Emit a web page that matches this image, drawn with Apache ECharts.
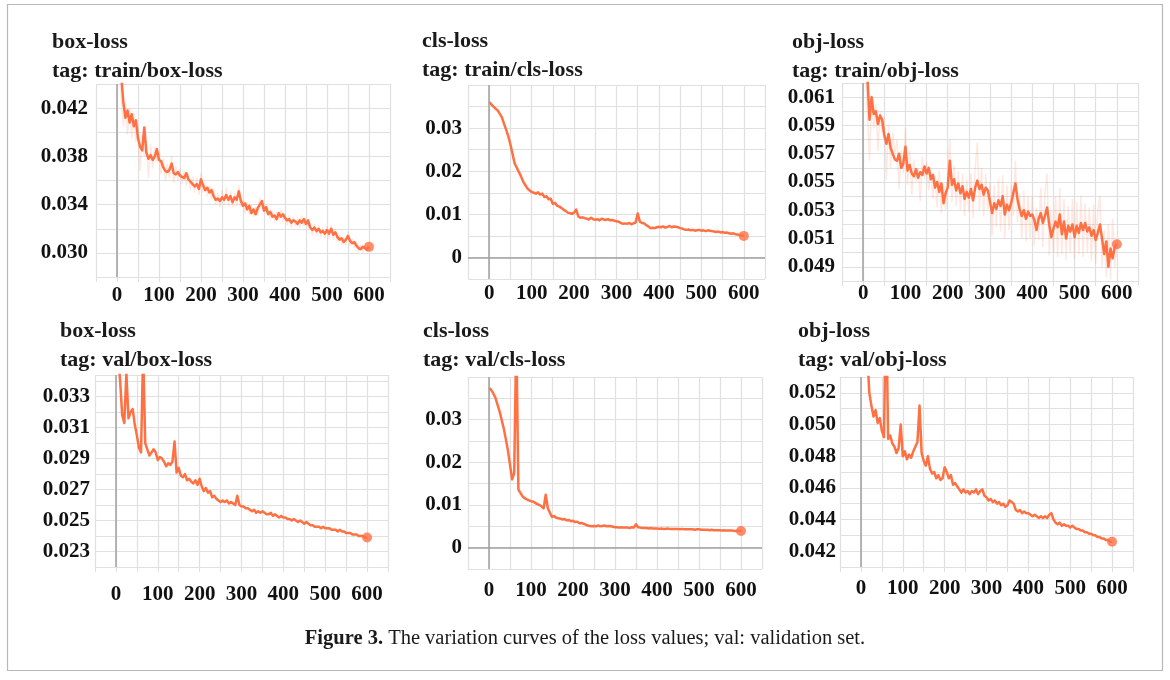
<!DOCTYPE html>
<html>
<head>
<meta charset="utf-8">
<title>loss curves</title>
<script src="https://cdn.jsdelivr.net/npm/echarts@6.0.0/dist/echarts.min.js"></script>
<style>
  html, body { margin: 0; padding: 0; background: #fff; }
  #main { width: 1170px; height: 680px; }
</style>
</head>
<body>
<div id="main"></div>
<script>
// training step (x) shared by every curve
const steps = [
  0, 5, 10, 15, 20, 25, 30, 35, 40, 45,
  50, 55, 60, 65, 70, 75, 80, 85, 90, 95,
  100, 105, 110, 115, 120, 125, 130, 135, 140, 145,
  150, 155, 160, 165, 170, 175, 180, 185, 190, 195,
  200, 205, 210, 215, 220, 225, 230, 235, 240, 245,
  250, 255, 260, 265, 270, 275, 280, 285, 290, 295,
  300, 305, 310, 315, 320, 325, 330, 335, 340, 345,
  350, 355, 360, 365, 370, 375, 380, 385, 390, 395,
  400, 405, 410, 415, 420, 425, 430, 435, 440, 445,
  450, 455, 460, 465, 470, 475, 480, 485, 490, 495,
  500, 505, 510, 515, 520, 525, 530, 535, 540, 545,
  550, 555, 560, 565, 570, 575, 580, 585, 590, 595,
  600
];

const trainBoxLoss = [
  0.0480, 0.0465, 0.0448, 0.0425, 0.0412, 0.0418, 0.0408, 0.0415, 0.0405, 0.0410,
  0.0395, 0.0388, 0.0385, 0.0404, 0.0383, 0.0378, 0.0381, 0.0377, 0.0380, 0.0386,
  0.0377, 0.0376, 0.0371, 0.0368, 0.0367, 0.0369, 0.0374, 0.0366, 0.0365, 0.0367,
  0.0364, 0.0363, 0.0362, 0.0366, 0.0361, 0.0359, 0.0357, 0.0355, 0.0357, 0.0353,
  0.0361, 0.0356, 0.0352, 0.0354, 0.0350, 0.0352, 0.0347, 0.0344, 0.0345, 0.0343,
  0.0346, 0.0344, 0.0348, 0.0344, 0.0347, 0.0342, 0.0346, 0.0344, 0.0351, 0.0343,
  0.0339, 0.0341, 0.0336, 0.0339, 0.0333, 0.0336, 0.0332, 0.0337, 0.0340, 0.0343,
  0.0335, 0.0338, 0.0332, 0.0334, 0.0330, 0.0331, 0.0328, 0.0333, 0.0330, 0.0332,
  0.0329, 0.0327, 0.0328, 0.0325, 0.0327, 0.0326, 0.0324, 0.0327, 0.0325, 0.0328,
  0.0324, 0.0327, 0.0321, 0.0319, 0.0321, 0.0318, 0.0320, 0.0317, 0.0318, 0.0316,
  0.0319, 0.0316, 0.0320, 0.0315, 0.0317, 0.0313, 0.0311, 0.0312, 0.0309, 0.0311,
  0.0314, 0.0310, 0.0308, 0.0309, 0.0306, 0.0304, 0.0303, 0.0305, 0.0304, 0.0303,
  0.0305
];

// unsmoothed values behind the box-loss training curve
const trainBoxRaw = [
  0.0470, 0.0450, 0.0430, 0.0405, 0.0425, 0.0398, 0.0420, 0.0395, 0.0416, 0.0392,
  0.0405, 0.0368, 0.0398, 0.0380, 0.0392, 0.0362, 0.0390, 0.0370, 0.0388, 0.0375,
  0.0384, 0.0366, 0.0378, 0.0360, 0.0374, 0.0362, 0.0380, 0.0358, 0.0372, 0.0360,
  0.0370, 0.0357, 0.0368, 0.0356, 0.0366, 0.0352, 0.0363, 0.0350, 0.0362, 0.0348,
  0.0366, 0.0350, 0.0358, 0.0347, 0.0356, 0.0345, 0.0353, 0.0340, 0.0350, 0.0338,
  0.0352, 0.0340, 0.0354, 0.0339, 0.0351, 0.0338, 0.0350, 0.0339, 0.0356, 0.0338,
  0.0344, 0.0333, 0.0342, 0.0332, 0.0340, 0.0330, 0.0338, 0.0331, 0.0346, 0.0336,
  0.0341, 0.0332, 0.0337, 0.0328, 0.0335, 0.0326, 0.0334, 0.0327, 0.0336, 0.0326,
  0.0333, 0.0323, 0.0331, 0.0321, 0.0330, 0.0322, 0.0329, 0.0321, 0.0331, 0.0322,
  0.0328, 0.0321, 0.0325, 0.0315, 0.0324, 0.0314, 0.0323, 0.0313, 0.0321, 0.0312,
  0.0322, 0.0312, 0.0323, 0.0311, 0.0320, 0.0309, 0.0315, 0.0307, 0.0313, 0.0306,
  0.0317, 0.0306, 0.0312, 0.0304, 0.0309, 0.0301, 0.0307, 0.0300, 0.0307, 0.0301,
  0.0305
];

const trainClsLoss = [
  0.0360, 0.0355, 0.0350, 0.0345, 0.0341, 0.0333, 0.0325, 0.0310, 0.0296, 0.0281,
  0.0262, 0.0240, 0.0218, 0.0208, 0.0198, 0.0188, 0.0176, 0.0168, 0.0160, 0.0156,
  0.0152, 0.0150, 0.0148, 0.0151, 0.0146, 0.0148, 0.0140, 0.0142, 0.0135, 0.0136,
  0.0124, 0.0127, 0.0120, 0.0118, 0.0115, 0.0111, 0.0108, 0.0104, 0.0103, 0.0101,
  0.0104, 0.0111, 0.0095, 0.0092, 0.0093, 0.0091, 0.0090, 0.0088, 0.0092, 0.0089,
  0.0087, 0.0089, 0.0086, 0.0090, 0.0088, 0.0087, 0.0089, 0.0086, 0.0087, 0.0085,
  0.0084, 0.0083, 0.0080, 0.0078, 0.0079, 0.0078, 0.0080, 0.0077, 0.0079, 0.0081,
  0.0102, 0.0083, 0.0080, 0.0079, 0.0075, 0.0072, 0.0068, 0.0069, 0.0068, 0.0070,
  0.0071, 0.0070, 0.0072, 0.0069, 0.0071, 0.0073, 0.0070, 0.0072, 0.0071, 0.0070,
  0.0068, 0.0067, 0.0065, 0.0064, 0.0065, 0.0063, 0.0064, 0.0062, 0.0063, 0.0064,
  0.0062, 0.0063, 0.0061, 0.0063, 0.0062, 0.0061, 0.0060, 0.0059, 0.0060, 0.0058,
  0.0059, 0.0057, 0.0058, 0.0056, 0.0055, 0.0056, 0.0054, 0.0053, 0.0052, 0.0051,
  0.0050
];

const trainObjLoss = [
  0.0650, 0.0635, 0.0625, 0.0594, 0.0610, 0.0598, 0.0600, 0.0591, 0.0597, 0.0594,
  0.0583, 0.0577, 0.0584, 0.0574, 0.0570, 0.0566, 0.0565, 0.0570, 0.0560, 0.0563,
  0.0575, 0.0558, 0.0562, 0.0556, 0.0554, 0.0559, 0.0553, 0.0557, 0.0555, 0.0561,
  0.0556, 0.0560, 0.0552, 0.0555, 0.0546, 0.0550, 0.0543, 0.0549, 0.0535, 0.0542,
  0.0546, 0.0565, 0.0548, 0.0552, 0.0544, 0.0549, 0.0542, 0.0547, 0.0538, 0.0543,
  0.0539, 0.0545, 0.0537, 0.0546, 0.0551, 0.0545, 0.0548, 0.0541, 0.0546, 0.0544,
  0.0536, 0.0528, 0.0535, 0.0531, 0.0537, 0.0533, 0.0540, 0.0527, 0.0534, 0.0530,
  0.0535, 0.0542, 0.0549, 0.0538, 0.0531, 0.0526, 0.0530, 0.0524, 0.0529, 0.0526,
  0.0527, 0.0523, 0.0516, 0.0524, 0.0528, 0.0521, 0.0526, 0.0532, 0.0520, 0.0511,
  0.0517, 0.0522, 0.0518, 0.0527, 0.0513, 0.0522, 0.0510, 0.0519, 0.0515, 0.0520,
  0.0511, 0.0519, 0.0514, 0.0521, 0.0516, 0.0521, 0.0515, 0.0518, 0.0512, 0.0516,
  0.0509, 0.0514, 0.0520, 0.0510, 0.0499, 0.0508, 0.0490, 0.0503, 0.0496, 0.0504,
  0.0506
];

// unsmoothed values behind the obj-loss training curve
const trainObjRaw = [
  0.0640, 0.0630, 0.0600, 0.0565, 0.0612, 0.0588, 0.0605, 0.0572, 0.0600, 0.0585,
  0.0596, 0.0552, 0.0590, 0.0560, 0.0585, 0.0570, 0.0580, 0.0545, 0.0572, 0.0556,
  0.0588, 0.0548, 0.0572, 0.0541, 0.0566, 0.0550, 0.0560, 0.0536, 0.0568, 0.0552,
  0.0564, 0.0544, 0.0560, 0.0538, 0.0555, 0.0532, 0.0558, 0.0528, 0.0549, 0.0530,
  0.0555, 0.0580, 0.0536, 0.0562, 0.0533, 0.0558, 0.0530, 0.0556, 0.0526, 0.0552,
  0.0529, 0.0556, 0.0524, 0.0560, 0.0578, 0.0530, 0.0560, 0.0526, 0.0556, 0.0531,
  0.0550, 0.0512, 0.0548, 0.0518, 0.0552, 0.0515, 0.0555, 0.0510, 0.0548, 0.0516,
  0.0548, 0.0526, 0.0565, 0.0522, 0.0542, 0.0510, 0.0544, 0.0508, 0.0540, 0.0510,
  0.0540, 0.0505, 0.0532, 0.0509, 0.0546, 0.0504, 0.0542, 0.0556, 0.0498, 0.0530,
  0.0500, 0.0540, 0.0497, 0.0546, 0.0499, 0.0538, 0.0495, 0.0533, 0.0500, 0.0538,
  0.0496, 0.0536, 0.0499, 0.0540, 0.0497, 0.0535, 0.0500, 0.0532, 0.0494, 0.0534,
  0.0492, 0.0530, 0.0540, 0.0490, 0.0516, 0.0483, 0.0520, 0.0481, 0.0524, 0.0490,
  0.0506
];

const valBoxLoss = [
  0.0370, 0.0358, 0.0340, 0.0318, 0.0313, 0.0345, 0.0316, 0.0320, 0.0322, 0.0312,
  0.0305, 0.0297, 0.0294, 0.0360, 0.0300, 0.0296, 0.0292, 0.0294, 0.0296, 0.0294,
  0.0289, 0.0291, 0.0290, 0.0288, 0.0285, 0.0287, 0.0286, 0.0288, 0.0301, 0.0281,
  0.0284, 0.0279, 0.0278, 0.0280, 0.0276, 0.0277, 0.0275, 0.0274, 0.0276, 0.0273,
  0.0277, 0.0272, 0.0269, 0.0271, 0.0268, 0.0269, 0.0265, 0.0266, 0.0264, 0.0263,
  0.0262, 0.0263, 0.0262, 0.0263, 0.0261, 0.0262, 0.0261, 0.0260, 0.0266, 0.0260,
  0.0259, 0.0259, 0.0258, 0.0258, 0.0257, 0.0256, 0.0257, 0.0255, 0.0256, 0.0255,
  0.0256, 0.0255, 0.0254, 0.0254, 0.0255, 0.0253, 0.0254, 0.0253, 0.0252, 0.0253,
  0.0252, 0.0252, 0.0251, 0.0251, 0.0250, 0.0251, 0.0250, 0.0249, 0.0250, 0.0249,
  0.0248, 0.0249, 0.0248, 0.0247, 0.0247, 0.0246, 0.0246, 0.0246, 0.0245, 0.0246,
  0.0245, 0.0245, 0.0245, 0.0244, 0.0244, 0.0244, 0.0243, 0.0244, 0.0243, 0.0243,
  0.0242, 0.0242, 0.0242, 0.0241, 0.0241, 0.0241, 0.0240, 0.0240, 0.0240, 0.0239,
  0.0239
];

const valClsLoss = [
  0.0374, 0.0370, 0.0362, 0.0352, 0.0336, 0.0320, 0.0300, 0.0280, 0.0255, 0.0228,
  0.0195, 0.0160, 0.0175, 0.0500, 0.0136, 0.0128, 0.0120, 0.0116, 0.0113, 0.0111,
  0.0109, 0.0108, 0.0105, 0.0102, 0.0100, 0.0097, 0.0092, 0.0124, 0.0093, 0.0082,
  0.0072, 0.0074, 0.0070, 0.0069, 0.0068, 0.0066, 0.0067, 0.0064, 0.0065, 0.0062,
  0.0063, 0.0060, 0.0061, 0.0057, 0.0058, 0.0056, 0.0054, 0.0052, 0.0051, 0.0050,
  0.0051, 0.0050, 0.0052, 0.0050, 0.0051, 0.0052, 0.0050, 0.0051, 0.0050, 0.0049,
  0.0048, 0.0048, 0.0047, 0.0048, 0.0047, 0.0047, 0.0047, 0.0046, 0.0048, 0.0047,
  0.0055, 0.0048, 0.0047, 0.0046, 0.0046, 0.0046, 0.0045, 0.0046, 0.0045, 0.0045,
  0.0045, 0.0044, 0.0045, 0.0044, 0.0044, 0.0045, 0.0044, 0.0044, 0.0044, 0.0044,
  0.0044, 0.0043, 0.0044, 0.0043, 0.0043, 0.0043, 0.0043, 0.0043, 0.0042, 0.0043,
  0.0043, 0.0042, 0.0042, 0.0042, 0.0042, 0.0041, 0.0042, 0.0041, 0.0041, 0.0041,
  0.0041, 0.0040, 0.0041, 0.0040, 0.0040, 0.0040, 0.0040, 0.0039, 0.0039, 0.0039,
  0.0039
];

const valObjLoss = [
  0.0560, 0.0555, 0.0550, 0.0545, 0.0520, 0.0512, 0.0505, 0.0509, 0.0501, 0.0504,
  0.0496, 0.0492, 0.0580, 0.0491, 0.0493, 0.0488, 0.0486, 0.0482, 0.0485, 0.0500,
  0.0480, 0.0483, 0.0478, 0.0481, 0.0479, 0.0483, 0.0486, 0.0489, 0.0512, 0.0482,
  0.0477, 0.0474, 0.0480, 0.0472, 0.0469, 0.0470, 0.0466, 0.0468, 0.0465, 0.0466,
  0.0473, 0.0470, 0.0466, 0.0468, 0.0462, 0.0463, 0.0461, 0.0459, 0.0457, 0.0459,
  0.0457, 0.0458, 0.0456, 0.0458, 0.0457, 0.0459, 0.0456, 0.0458, 0.0459, 0.0455,
  0.0454, 0.0452, 0.0453, 0.0451, 0.0452, 0.0450, 0.0451, 0.0449, 0.0450, 0.0448,
  0.0449, 0.0452, 0.0451, 0.0450, 0.0446, 0.0445, 0.0446, 0.0444, 0.0445, 0.0444,
  0.0444, 0.0443, 0.0442, 0.0443, 0.0442, 0.0441, 0.0442, 0.0441, 0.0442, 0.0441,
  0.0443, 0.0444, 0.0440, 0.0438, 0.0437, 0.0438, 0.0436, 0.0437, 0.0436, 0.0436,
  0.0435, 0.0436, 0.0435, 0.0434, 0.0434, 0.0433, 0.0433, 0.0432, 0.0432, 0.0431,
  0.0431, 0.0430, 0.0430, 0.0429, 0.0429, 0.0428, 0.0428, 0.0427, 0.0427, 0.0426,
  0.0426
];

const xTickLabels = [0, 100, 200, 300, 400, 500, 600];

const SERIF = '"Liberation Serif", "DejaVu Serif", serif';
const LINE = '#ff7043';
const RAW_LINE = 'rgba(255,112,67,0.16)';
const GRID_LINE = '#e0e0e0';
const ZERO_LINE = '#a0a0a0';

// one entry per small chart
const panels = [
  { name: 'box-loss', tag: 'tag: train/box-loss', values: trainBoxLoss, raw: trainBoxRaw,
    box: { left: 96, top: 84, width: 294, height: 193 }, titleX: 52, titleY: 28,
    yMin: 0.028, yMax: 0.044, yStep: 0.002, labelFrom: 0.030, labelStep: 0.004, digits: 3,
    zeroH: false, xGap: 8, yGap: 8 },
  { name: 'cls-loss', tag: 'tag: train/cls-loss', values: trainClsLoss, raw: null,
    box: { left: 468, top: 85, width: 297, height: 194 }, titleX: 422, titleY: 27,
    yMin: -0.005, yMax: 0.04, yStep: 0.005, labelFrom: 0, labelStep: 0.01, digits: 2,
    zeroH: true, xGap: 4, yGap: 6 },
  { name: 'obj-loss', tag: 'tag: train/obj-loss', values: trainObjLoss, raw: trainObjRaw,
    box: { left: 842, top: 83, width: 296, height: 198 }, titleX: 792, titleY: 28,
    yMin: 0.048, yMax: 0.062, yStep: 0.001, labelFrom: 0.049, labelStep: 0.002, digits: 3,
    zeroH: false, xGap: 2, yGap: 7 },
  { name: 'box-loss', tag: 'tag: val/box-loss', values: valBoxLoss, raw: null,
    box: { left: 95, top: 375, width: 293, height: 192 }, titleX: 60, titleY: 317,
    yMin: 0.022, yMax: 0.0344, yStep: 0.001, labelFrom: 0.023, labelStep: 0.002, digits: 3,
    zeroH: false, xGap: 17, yGap: 5 },
  { name: 'cls-loss', tag: 'tag: val/cls-loss', values: valClsLoss, raw: null,
    box: { left: 468, top: 377, width: 294, height: 192 }, titleX: 423, titleY: 317,
    yMin: -0.005, yMax: 0.04, yStep: 0.005, labelFrom: 0, labelStep: 0.01, digits: 2,
    zeroH: true, xGap: 11, yGap: 6 },
  { name: 'obj-loss', tag: 'tag: val/obj-loss', values: valObjLoss, raw: null,
    box: { left: 840, top: 377, width: 293, height: 190 }, titleX: 798, titleY: 317,
    yMin: 0.041, yMax: 0.053, yStep: 0.001, labelFrom: 0.042, labelStep: 0.002, digits: 3,
    zeroH: false, xGap: 11, yGap: 4 }
];

const chart = echarts.init(document.getElementById('main'));

const grids = [], xAxes = [], yAxes = [], series = [];
const titles = [];

panels.forEach((p, i) => {
  grids.push(Object.assign({ containLabel: false }, p.box));

  titles.push({
    text: p.name + '\n' + p.tag,
    left: p.titleX, top: p.titleY, padding: 0,
    textStyle: { fontFamily: SERIF, fontWeight: 'bold', fontSize: 22, lineHeight: 29, color: '#1a1a1a' }
  });

  xAxes.push({
    gridIndex: i, type: 'value', min: -50, max: 650, interval: 50,
    axisLine: { show: false },
    axisTick: { show: true, length: 5, lineStyle: { color: GRID_LINE } },
    splitLine: { show: true, lineStyle: { color: GRID_LINE, width: 1.2 } },
    axisLabel: {
      margin: p.xGap, fontFamily: SERIF, fontWeight: 'bold', fontSize: 21, color: '#111',
      formatter: v => xTickLabels.indexOf(Math.round(v)) >= 0 ? String(Math.round(v)) : ''
    }
  });

  yAxes.push({
    gridIndex: i, type: 'value', min: p.yMin, max: p.yMax, interval: p.yStep,
    axisLine: { show: false },
    axisTick: { show: true, length: 5, lineStyle: { color: GRID_LINE } },
    splitLine: { show: true, lineStyle: { color: GRID_LINE, width: 1.2 } },
    axisLabel: {
      margin: p.yGap, fontFamily: SERIF, fontWeight: 'bold', fontSize: 21, color: '#111',
      formatter: v => {
        const k = (v - p.labelFrom) / p.labelStep;
        if (Math.abs(k - Math.round(k)) > 1e-6 || v >= p.yMax - 1e-9) return '';
        return Math.abs(v) < 1e-12 ? '0' : v.toFixed(p.digits);
      }
    }
  });

  const zeroLines = [{ xAxis: 0 }];
  if (p.zeroH) zeroLines.push({ yAxis: 0 });

  if (p.raw) {
    series.push({
      type: 'line', xAxisIndex: i, yAxisIndex: i, silent: true,
      symbol: 'none', clip: true,
      lineStyle: { color: RAW_LINE, width: 1.5 },
      data: steps.map((s, j) => [s, p.raw[j]])
    });
  }

  series.push({
    type: 'line', xAxisIndex: i, yAxisIndex: i, silent: true,
    symbol: 'none', clip: true, z: 3,
    lineStyle: { color: LINE, width: 2.5, join: 'round' },
    data: steps.map((s, j) => [s, p.values[j]]),
    markLine: {
      silent: true, symbol: ['none', 'none'], label: { show: false },
      lineStyle: { color: ZERO_LINE, width: 1.5, type: 'solid' },
      data: zeroLines
    }
  });

  // dot on the last logged step
  const last = steps.length - 1;
  series.push({
    type: 'scatter', xAxisIndex: i, yAxisIndex: i, silent: true, z: 4,
    symbolSize: 10, itemStyle: { color: LINE },
    data: [[steps[last], p.values[last]]]
  });
});

titles.push({
  text: '{b|Figure 3.} The variation curves of the loss values; val: validation set.',
  left: 'center', top: 628, padding: 0,
  textStyle: {
    fontFamily: SERIF, fontSize: 20.5, color: '#1a1a1a', fontWeight: 'normal',
    rich: { b: { fontFamily: SERIF, fontSize: 20.5, fontWeight: 'bold', color: '#1a1a1a' } }
  }
});

chart.setOption({
  animation: false,
  backgroundColor: '#fff',
  title: titles,
  grid: grids,
  xAxis: xAxes,
  yAxis: yAxes,
  series: series,
  graphic: [{
    type: 'rect', silent: true,
    shape: { x: 7.5, y: 4.5, width: 1155, height: 666 },
    style: { fill: 'none', stroke: '#b8b8b8', lineWidth: 1.2 }
  }]
});
</script>
</body>
</html>
